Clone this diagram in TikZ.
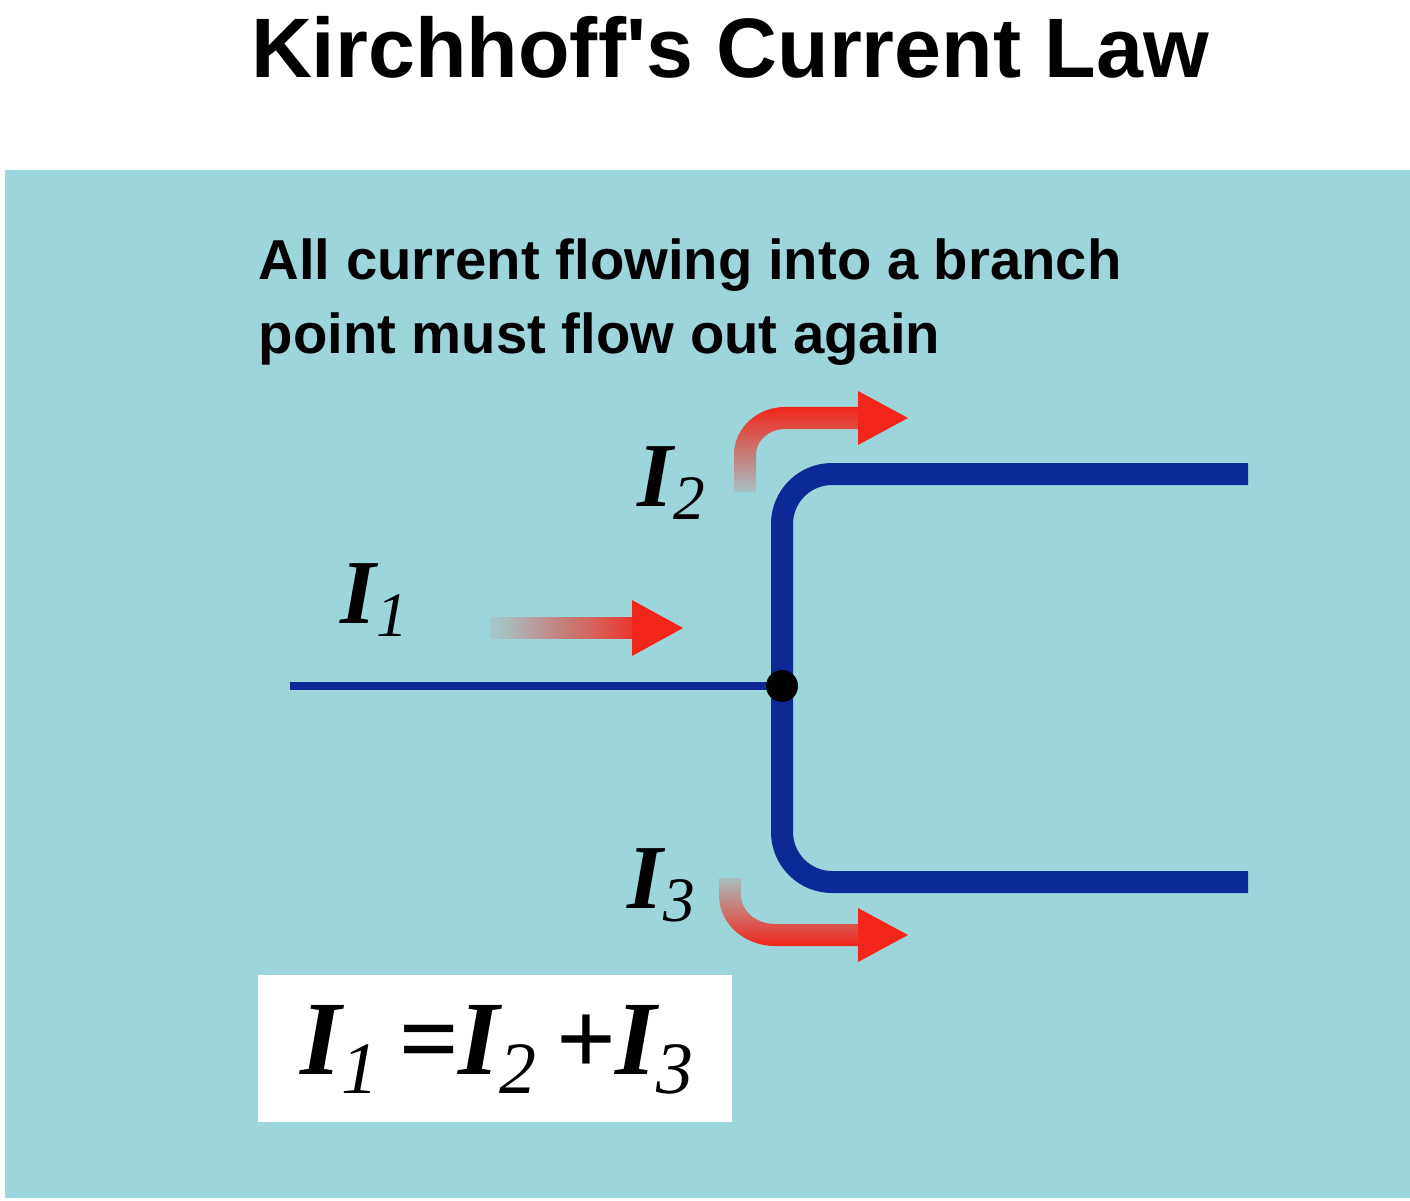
\documentclass[tikz,border=0pt]{standalone}
\usepackage{fontspec}
\setmainfont{Liberation Sans}
\newfontfamily\tms{Liberation Serif}
\usetikzlibrary{fadings}
\definecolor{bg}{HTML}{9CD6DA}
\definecolor{wire}{HTML}{0C2A96}
\definecolor{arr}{HTML}{F2261A}
\tikzset{
 lab/.style={font=\tms\bfseries\itshape\fontsize{26pt}{26pt}\selectfont, inner sep=0},
 shaft/.style={arr, line width=0.22cm},
 head/.style={fill=arr, draw=none},
}
\newcommand{\sub}[1]{\textsubscript{\tms\mdseries\itshape\fontsize{18pt}{18pt}\selectfont #1}}
\newcommand{\bsub}[1]{\textsubscript{\tms\mdseries\itshape\fontsize{21pt}{21pt}\selectfont #1}}
\begin{document}
\begin{tikzpicture}[x=0.01cm,y=-0.01cm]
\useasboundingbox (0,0) rectangle (1410,1200);
\fill[white] (0,0) rectangle (1410,1200);
\fill[bg] (5,170) rectangle (1410,1198);
\node[font=\bfseries\fontsize{24pt}{24pt}\selectfont] (title) at (730,47) {Kirchhoff\textquotesingle s Current Law};
\node[font=\bfseries\fontsize{16pt}{22pt}\selectfont, anchor=north west, align=left, inner sep=0] (txt) at (258,238)
 {All current flowing into a branch\\[-1pt] point must flow out again};
% wires
\coordinate (in) at (290,686);
\coordinate (j) at (782,686);
\draw[wire, line width=0.08cm] (in) -- (j);
\coordinate (t) at (1248,474);
\coordinate (b) at (1248,882);
\draw[wire, line width=0.22cm, rounded corners=0.5cm] (t) -- (782,474) -- (782,882) -- (b);
\fill[black] (j) circle (16);
% arrows
\draw[shaft, path fading=west] (490,628) -- (640,628);
\fill[head] (632,600) -- (683,628) -- (632,656) -- cycle;
\draw[shaft, path fading=south] (745,492) -- (745,455) to[out=90,in=180] (785,418) -- (865,418);
\fill[head] (858,391) -- (908,418) -- (858,445) -- cycle;
\draw[shaft, path fading=north] (730,878) -- (730,895) to[out=-90,in=180] (775,935) -- (865,935);
\fill[head] (858,908) -- (908,935) -- (858,962) -- cycle;
% labels
\node[lab] (i1) at (375,600) {I\sub{1}};
\node[lab] (i2) at (672,483) {I\sub{2}};
\node[lab] (i3) at (662,885) {I\sub{3}};
\fill[white] (258,975) rectangle (732,1122);
\node[inner sep=0] (eq) at (498,1050)
 {\tms\bfseries\itshape\fontsize{30pt}{30pt}\selectfont I\bsub{1}\,=I\bsub{2}\,+I\bsub{3}};
\end{tikzpicture}
\end{document}
